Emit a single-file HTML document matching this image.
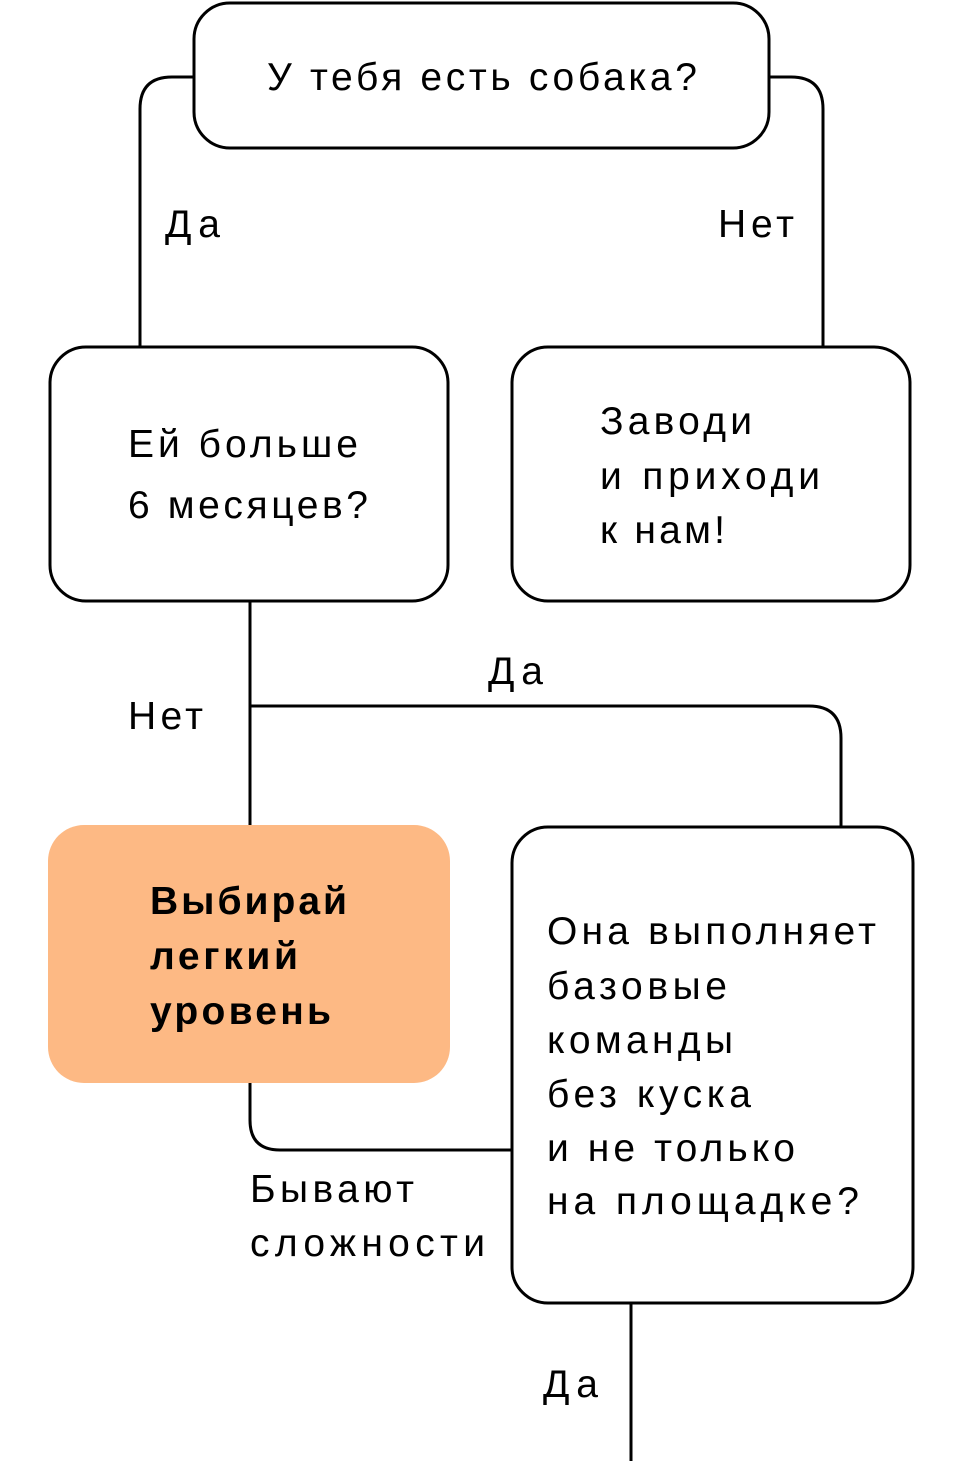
<!DOCTYPE html>
<html><head><meta charset="utf-8"><style>
html,body{margin:0;padding:0;background:#fff;}
svg{display:block;}
text{font-family:"Liberation Sans",sans-serif;font-size:39px;fill:#000;}
.b{font-weight:bold;}
</style></head><body>
<svg width="960" height="1461" viewBox="0 0 960 1461" xmlns="http://www.w3.org/2000/svg">
<g fill="none" stroke="#000" stroke-width="3">
<path d="M193,77 H172 Q140,77 140,109 V346"/>
<path d="M769,77 H791 Q823,77 823,109 V346"/>
<path d="M250,601 V826"/>
<path d="M250,706 H809 Q841,706 841,738 V826"/>
<path d="M250,1083 V1120 Q250,1150 280,1150 H511"/>
<path d="M631,1303 V1461"/>
<rect x="194" y="3" width="575" height="145" rx="36"/>
<rect x="50" y="347" width="398" height="254" rx="36"/>
<rect x="512" y="347" width="398" height="254" rx="36"/>
<rect x="512" y="827" width="401" height="476" rx="36"/>
</g>
<rect x="48" y="825" width="402" height="258" rx="36" fill="#FDB984"/>
<text x="267" y="90" textLength="430">У тебя есть собака?</text>
<text x="165" y="237" textLength="55">Да</text>
<text x="718" y="237" textLength="76">Нет</text>
<text x="128" y="457" textLength="230">Ей больше</text>
<text x="128" y="518" textLength="240">6 месяцев?</text>
<text x="600" y="434" textLength="152">Заводи</text>
<text x="600" y="489" textLength="220">и приходи</text>
<text x="600" y="543" textLength="125">к нам!</text>
<text x="488" y="684" textLength="55">Да</text>
<text x="128" y="729" textLength="75">Нет</text>
<text class="b" x="150" y="914" textLength="197">Выбирай</text>
<text class="b" x="150" y="969" textLength="148">легкий</text>
<text class="b" x="150" y="1024" textLength="181">уровень</text>
<text x="547" y="944" textLength="329">Она выполняет</text>
<text x="547" y="999" textLength="180">базовые</text>
<text x="547" y="1053" textLength="186">команды</text>
<text x="547" y="1107" textLength="204">без куска</text>
<text x="547" y="1161" textLength="248">и не только</text>
<text x="547" y="1214" textLength="312">на  площадке?</text>
<text x="250" y="1202" textLength="164">Бывают</text>
<text x="250" y="1256" textLength="235">сложности</text>
<text x="543" y="1397" textLength="55">Да</text>
</svg>
</body></html>
